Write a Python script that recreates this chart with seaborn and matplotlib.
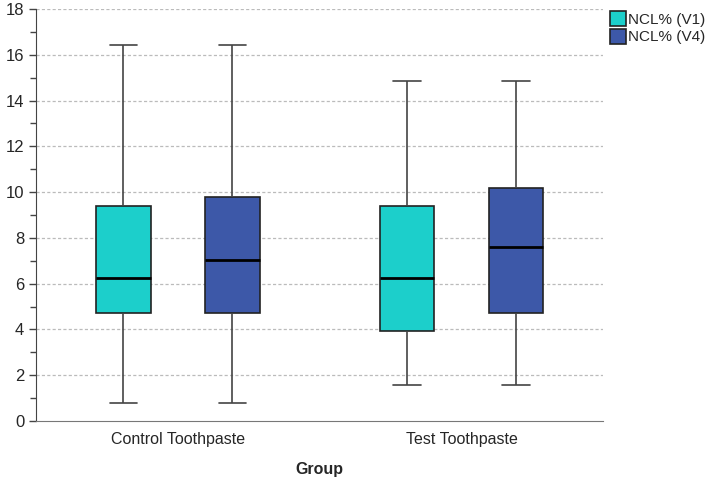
import matplotlib
matplotlib.use("Agg")
import matplotlib.pyplot as plt
from matplotlib.ticker import MultipleLocator
import pandas as pd
import seaborn as sns

groups = ["Control Toothpaste", "Test Toothpaste"]
visits = ["NCL% (V1)", "NCL% (V4)"]
# five-number summaries: min, q1, median, q3, max
control_v1 = [0.8, 4.7, 6.25, 9.4, 16.43]
control_v4 = [0.8, 4.7, 7.03, 9.8, 16.43]
test_v1 = [1.57, 3.92, 6.26, 9.4, 14.86]
test_v4 = [1.57, 4.7, 7.58, 10.16, 14.86]
colors = ["#1ccfcb", "#3d58a8"]

rows = []
for g, v, vals in [(groups[0], visits[0], control_v1), (groups[0], visits[1], control_v4),
                   (groups[1], visits[0], test_v1), (groups[1], visits[1], test_v4)]:
    for x in vals:
        rows.append({"Group": g, "Visit": v, "NCL": x})
df = pd.DataFrame(rows)

sns.set_style("white")
plt.rcParams["font.family"] = ["Liberation Sans", "DejaVu Sans"]

fig = plt.figure(figsize=(7.08, 4.82), dpi=100)
ax = fig.add_axes([0.051, 0.1266, 0.801, 0.8547])

sns.boxplot(data=df, x="Group", y="NCL", hue="Visit", order=groups, hue_order=visits,
            palette=colors, width=0.77, gap=0.5, whis=(0, 100), saturation=1,
            linecolor="#222222", linewidth=1.2,
            whiskerprops={"color": "#444444"}, capprops={"color": "#444444"},
            medianprops={"color": "black", "linewidth": 2},
            ax=ax)

ax.set_ylim(0, 18)
ax.set_xlim(-0.5, 1.5)
ax.yaxis.set_major_locator(MultipleLocator(2))
ax.yaxis.set_minor_locator(MultipleLocator(1))
ax.tick_params(axis="y", which="major", length=5, width=1, color="#444444", labelsize=12, left=True)
ax.tick_params(axis="y", which="minor", length=4, width=1, color="#444444", left=True)
ax.tick_params(axis="x", length=0, labelsize=11.5, pad=8)
for y in range(2, 19, 2):
    ax.axhline(y, color="#bbbbbb", linestyle=(0, (2.5, 1.8)), linewidth=0.9, zorder=0)

sns.despine(ax=ax, top=True, right=True)
ax.spines["left"].set_color("#444444")
ax.spines["bottom"].set_color("#777777")

ax.set_xlabel("Group", fontsize=11.5, fontweight="bold", labelpad=11)
ax.set_ylabel("")

handles, labels = ax.get_legend_handles_labels()
for h in handles:
    h.set_edgecolor("#222222")
ax.legend(handles, labels, loc="upper left", bbox_to_anchor=(0.861, 0.977),
          bbox_transform=fig.transFigure, frameon=False, fontsize=11,
          handlelength=1.1, handleheight=1.1, handletextpad=0.1, labelspacing=0.15,
          borderaxespad=0, borderpad=0)

fig.savefig("out.png", dpi=100)
